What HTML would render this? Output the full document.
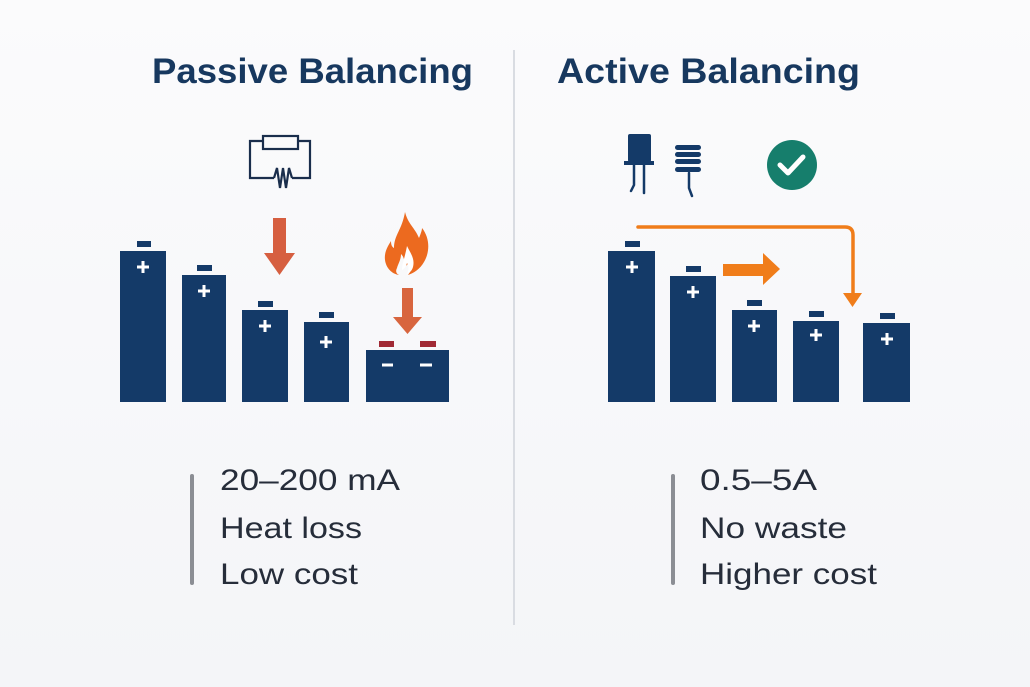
<!DOCTYPE html>
<html><head><meta charset="utf-8"><style>
html,body{margin:0;padding:0;background:#f8f9fb;}
svg{display:block;}
</style></head><body>
<svg width="1030" height="687" viewBox="0 0 1030 687" xmlns="http://www.w3.org/2000/svg">
<defs><linearGradient id="bg" x1="0" y1="0" x2="0" y2="1"><stop offset="0" stop-color="#fbfbfc"/><stop offset="1" stop-color="#f4f5f8"/></linearGradient></defs>
<rect width="1030" height="687" fill="url(#bg)"/>
<line x1="514" y1="50" x2="514" y2="625" stroke="#d9dce2" stroke-width="2"/>
<g font-family="Liberation Sans, sans-serif" font-weight="bold" font-size="35" fill="#17385f">
<text x="152" y="83" textLength="321" lengthAdjust="spacingAndGlyphs">Passive Balancing</text>
<text x="557" y="83" textLength="303" lengthAdjust="spacingAndGlyphs">Active Balancing</text>
</g>
<g fill="#143a68">
<rect x="120" y="251" width="46" height="151"/><rect x="137" y="241" width="14" height="6"/>
<rect x="182" y="275" width="44" height="127"/><rect x="197" y="265" width="15" height="6"/>
<rect x="242" y="310" width="46" height="92"/><rect x="258" y="301" width="15" height="6"/>
<rect x="304" y="322" width="45" height="80"/><rect x="319" y="312" width="15" height="6"/>
<rect x="366" y="350" width="83" height="52"/>
<rect x="608" y="251" width="47" height="151"/><rect x="625" y="241" width="15" height="6"/>
<rect x="670" y="276" width="46" height="126"/><rect x="686" y="266" width="15" height="6"/>
<rect x="732" y="310" width="45" height="92"/><rect x="747" y="300" width="15" height="6"/>
<rect x="793" y="321" width="46" height="81"/><rect x="809" y="311" width="15" height="6"/>
<rect x="863" y="323" width="47" height="79"/><rect x="880" y="313" width="15" height="6"/>
</g>
<rect x="379" y="341" width="15" height="6" fill="#a12a35"/><rect x="420" y="341" width="16" height="6" fill="#a12a35"/>
<g stroke="#fff" stroke-width="3">
<path d="M137 267h12M143 261v12"/><path d="M198 291h12M204 285v12"/><path d="M259 326h12M265 320v12"/><path d="M320 342h12M326 336v12"/>
<path d="M382 365h11M420 365h12"/>
<path d="M626 267h12M632 261v12"/><path d="M687 292h12M693 286v12"/><path d="M748 326h12M754 320v12"/><path d="M810 335h12M816 329v12"/><path d="M881 339h12M887 333v12"/>
</g>
<g fill="none" stroke="#1a2e4c" stroke-width="2.2">
<path d="M263 141h-13v37h24M292 178h18v-37h-12"/>
<rect x="263" y="136" width="35" height="13"/>
<path d="M274 178l3-10 3 20 3-20 3 20 3-20 3 10"/>
</g>
<g fill="#d65f40"><rect x="273" y="218" width="13" height="36"/><path d="M264 253h31l-15.5 22z"/></g>
<g fill="#d8653e"><rect x="402" y="288" width="11" height="31"/><path d="M393 317h29l-14.5 17z"/></g>
<path d="M405 212c3 12 10 16 14 26 2-5 3-8 3-10 8 10 8 24 2 34-4 7-10 11-16 13 4-5 5-10 2-16-1 5-4 7-6 8 1-6 0-10-3-13 0 6-3 10-4 14-2 4 0 6 2 7-7-1-13-7-14-15-1-8 3-14 6-19 0 4 1 6 3 7 0-13 8-18 11-36z" fill="#ec6a1f"/>
<path d="M407 246c4 8 8 13 6 21-1 4-4 6-6 7 2-4 2-8 0-11-1 4-3 6-5 7 0-6 3-13 5-24z" fill="#fff"/>
<g fill="#143a68"><rect x="628" y="134" width="23" height="28" rx="2"/><rect x="624" y="161" width="30" height="4"/></g>
<g stroke="#143a68" stroke-width="2.5" fill="none" stroke-linecap="round"><path d="M634 165v20l-3 6M644 165v28"/><path d="M689 173v15l3 8"/></g>
<g fill="#143a68"><rect x="675" y="145" width="26" height="5" rx="2.5"/><rect x="675" y="152" width="26" height="5" rx="2.5"/><rect x="675" y="159" width="26" height="5" rx="2.5"/><rect x="675" y="167" width="26" height="5" rx="2.5"/></g>
<circle cx="792" cy="165" r="25" fill="#167e6c"/>
<path d="M780 165l8 8 15-16" fill="none" stroke="#fff" stroke-width="5" stroke-linecap="round" stroke-linejoin="round"/>
<path d="M638 227H845q8 0 8 8V296" fill="none" stroke="#f07d1a" stroke-width="3.5" stroke-linecap="round"/>
<path d="M843 293h19l-9.5 14z" fill="#f07d1a"/>
<rect x="723" y="264" width="41" height="12" fill="#f07d1a"/><path d="M763 253l17 16-17 16z" fill="#f07d1a"/>
<rect x="190" y="474" width="4" height="111" rx="2" fill="#8b8e94"/>
<rect x="671" y="474" width="4" height="111" rx="2" fill="#8b8e94"/>
<g font-family="Liberation Sans, sans-serif" font-size="30" fill="#262d3a" lengthAdjust="spacingAndGlyphs">
<text x="220" y="490" textLength="180" lengthAdjust="spacingAndGlyphs">20–200 mA</text>
<text x="220" y="538" textLength="142" lengthAdjust="spacingAndGlyphs">Heat loss</text>
<text x="220" y="584" textLength="138" lengthAdjust="spacingAndGlyphs">Low cost</text>
<text x="700" y="490" textLength="117" lengthAdjust="spacingAndGlyphs">0.5–5A</text>
<text x="700" y="538" textLength="147" lengthAdjust="spacingAndGlyphs">No waste</text>
<text x="700" y="584" textLength="177" lengthAdjust="spacingAndGlyphs">Higher cost</text>
</g>
</svg>
</body></html>
